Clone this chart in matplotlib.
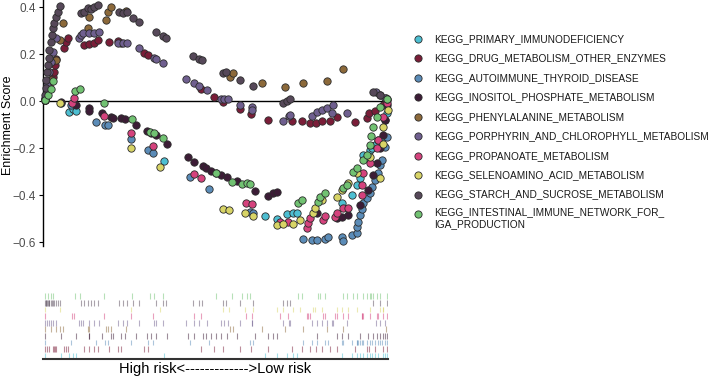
import matplotlib
matplotlib.use('Agg')
import matplotlib.pyplot as plt
from matplotlib.lines import Line2D

plt.rcParams['font.family'] = ['Liberation Sans', 'DejaVu Sans']

# gene set names (legend order) and colours
names = ['KEGG_PRIMARY_IMMUNODEFICIENCY',
         'KEGG_DRUG_METABOLISM_OTHER_ENZYMES',
         'KEGG_AUTOIMMUNE_THYROID_DISEASE',
         'KEGG_INOSITOL_PHOSPHATE_METABOLISM',
         'KEGG_PHENYLALANINE_METABOLISM',
         'KEGG_PORPHYRIN_AND_CHLOROPHYLL_METABOLISM',
         'KEGG_PROPANOATE_METABOLISM',
         'KEGG_SELENOAMINO_ACID_METABOLISM',
         'KEGG_STARCH_AND_SUCROSE_METABOLISM',
         'KEGG_INTESTINAL_IMMUNE_NETWORK_FOR_\nIGA_PRODUCTION']
colors = ['#4DBFD2', '#7A1D38', '#5B8CB8', '#3C1C36', '#8C693A',
          '#6F5F8F', '#D5427D', '#D8D466', '#564859', '#71C272']

# running enrichment score at each hit (rank, ES)
primary_rank = [1, 17, 25, 29, 32, 120, 222, 234, 244, 250, 254, 299, 309, 314, 317, 320, 324, 327, 329, 332, 335, 340, 342, 344]
primary_es = [0.004, -0.009, -0.047, -0.034, -0.043, -0.255, -0.489, -0.502, -0.481, -0.477, -0.477, -0.434, -0.40, -0.357, -0.328, -0.23, -0.238, -0.209, -0.2, -0.187, -0.166, -0.153, -0.081, -0.051]

drug_rank = [1, 3, 5, 9, 10, 11, 12, 20, 22, 24, 40, 45, 50, 54, 65, 74, 77, 100, 104, 157, 170, 180, 197, 208, 225, 249, 259, 267, 273, 279, 287, 294, 312, 324, 326, 332, 340, 344]
drug_es = [0.009, 0.038, 0.068, 0.102, 0.123, 0.153, 0.179, 0.226, 0.251, 0.268, 0.238, 0.243, 0.247, 0.26, 0.251, 0.255, 0.247, 0.204, 0.196, 0.051, 0.017, -0.004, -0.034, -0.055, -0.081, -0.085, -0.085, -0.094, -0.094, -0.085, -0.085, -0.068, -0.089, -0.072, -0.051, -0.043, -0.017, 0.004]

auto_rank = [1, 27, 52, 61, 64, 87, 104, 109, 146, 165, 207, 210, 260, 269, 274, 282, 285, 299, 300, 309, 314, 314, 315, 317, 319, 320, 324, 327, 329, 332, 335, 337, 339, 342, 344]
auto_es = [0.004, -0.017, -0.089, -0.102, -0.102, -0.162, -0.209, -0.221, -0.323, -0.374, -0.472, -0.477, -0.587, -0.591, -0.591, -0.587, -0.579, -0.579, -0.596, -0.57, -0.562, -0.536, -0.515, -0.485, -0.46, -0.434, -0.413, -0.391, -0.366, -0.336, -0.306, -0.272, -0.251, -0.196, -0.153]

inositol_rank = [1, 17, 32, 45, 45, 58, 67, 69, 77, 81, 92, 103, 107, 112, 123, 144, 150, 159, 162, 167, 172, 178, 184, 194, 212, 225, 230, 234, 274, 294, 299, 305, 317, 325, 330, 334, 337, 340, 342, 344]
inositol_es = [0.004, -0.004, -0.017, -0.03, -0.043, -0.051, -0.068, -0.072, -0.072, -0.077, -0.102, -0.128, -0.136, -0.145, -0.183, -0.238, -0.26, -0.277, -0.285, -0.298, -0.306, -0.315, -0.323, -0.34, -0.383, -0.404, -0.391, -0.387, -0.477, -0.498, -0.494, -0.485, -0.443, -0.379, -0.315, -0.264, -0.2, -0.145, -0.081, -0.017]

phenyl_rank = [1, 7, 12, 16, 19, 44, 45, 62, 64, 67, 82, 187, 190, 219, 242, 260, 284, 300, 343]
phenyl_es = [0.004, 0.089, 0.174, 0.26, 0.332, 0.311, 0.357, 0.345, 0.379, 0.40, 0.383, 0.102, 0.119, 0.077, 0.06, 0.077, 0.085, 0.136, 0.013]

porph_rank = [1, 3, 5, 7, 9, 12, 35, 37, 39, 45, 50, 55, 74, 79, 83, 95, 110, 112, 119, 142, 150, 155, 163, 178, 181, 185, 197, 209, 209, 240, 246, 247, 269, 274, 279, 284, 290, 289, 304, 333, 337, 342]
porph_es = [0.013, 0.068, 0.123, 0.166, 0.209, 0.268, 0.268, 0.281, 0.289, 0.289, 0.289, 0.294, 0.247, 0.247, 0.247, 0.226, 0.183, 0.179, 0.162, 0.094, 0.077, 0.064, 0.047, 0.009, 0.009, 0.009, -0.017, -0.026, -0.038, -0.085, -0.064, -0.06, -0.064, -0.047, -0.038, -0.03, -0.017, -0.051, -0.051, 0.038, 0.026, 0.013]

propan_rank = [1, 28, 30, 60, 87, 109, 150, 157, 203, 209, 237, 245, 264, 265, 267, 280, 282, 292, 294, 300, 305, 319, 319, 320, 327, 334, 335, 340, 344]
propan_es = [0.004, -0.009, 0.013, -0.064, -0.136, -0.191, -0.311, -0.328, -0.434, -0.438, -0.515, -0.515, -0.54, -0.519, -0.498, -0.506, -0.489, -0.494, -0.477, -0.455, -0.455, -0.40, -0.357, -0.306, -0.264, -0.2, -0.166, -0.068, -0.009]

seleno_rank = [1, 16, 87, 116, 180, 186, 202, 210, 234, 240, 250, 257, 270, 272, 279, 294, 299, 305, 314, 327, 337, 340, 340, 345]
seleno_es = [0.004, -0.009, -0.2, -0.281, -0.46, -0.464, -0.477, -0.489, -0.528, -0.523, -0.523, -0.506, -0.477, -0.455, -0.421, -0.409, -0.379, -0.349, -0.306, -0.238, -0.328, -0.183, -0.111, -0.038]

starch_rank = [1, 2, 2, 3, 4, 5, 5, 7, 8, 9, 10, 12, 14, 16, 37, 40, 44, 47, 50, 54, 75, 79, 83, 89, 95, 112, 119, 122, 149, 155, 158, 180, 183, 197, 210, 240, 244, 247, 330, 337, 344]
starch_es = [0.026, 0.055, 0.089, 0.123, 0.153, 0.183, 0.217, 0.251, 0.281, 0.311, 0.332, 0.357, 0.379, 0.404, 0.374, 0.379, 0.396, 0.391, 0.40, 0.409, 0.379, 0.374, 0.379, 0.353, 0.336, 0.294, 0.277, 0.268, 0.191, 0.179, 0.174, 0.119, 0.123, 0.089, 0.064, -0.009, 0.0, 0.009, 0.038, 0.026, 0.009]

intest_rank = [1, 4, 7, 9, 31, 36, 60, 88, 106, 110, 119, 172, 189, 199, 204, 207, 255, 259, 275, 277, 282, 300, 304, 310, 314, 320, 324, 327, 328, 330, 334, 337, 344]
intest_es = [0.004, 0.026, 0.051, 0.085, 0.043, 0.051, -0.009, -0.077, -0.132, -0.136, -0.157, -0.306, -0.345, -0.353, -0.349, -0.353, -0.434, -0.421, -0.43, -0.409, -0.391, -0.37, -0.357, -0.302, -0.285, -0.251, -0.23, -0.187, -0.149, -0.111, -0.068, -0.026, 0.009]

ranks = [primary_rank, drug_rank, auto_rank, inositol_rank, phenyl_rank,
         porph_rank, propan_rank, seleno_rank, starch_rank, intest_rank]
scores = [primary_es, drug_es, auto_es, inositol_es, phenyl_es,
          porph_es, propan_es, seleno_es, starch_es, intest_es]

W, H = 709, 377
fig = plt.figure(figsize=(W / 100, H / 100), dpi=100)

# top panel: running enrichment score
ax1 = fig.add_axes([43 / W, 1 - 246 / H, 345 / W, 246 / H])
for r, es, c in zip(ranks, scores, colors):
    ax1.scatter(r, es, s=28, color=c, edgecolor='#2b2b2b', linewidth=0.6,
                zorder=3, clip_on=False)
ax1.axhline(0, color='black', lw=1, zorder=2)
ax1.set_xlim(-1, 345)
ax1.set_ylim(-0.617, 0.43)
ax1.set_yticks([-0.6, -0.4, -0.2, 0.0, 0.2, 0.4])
ax1.set_yticklabels(['\u22120.6', '\u22120.4', '\u22120.2', '0.0', '0.2', '0.4'])
ax1.tick_params(axis='y', labelsize=8.5, labelcolor='#4d4d4d', length=3,
                width=0.8, pad=2)
ax1.set_xticks([])
for s in ['top', 'right', 'bottom']:
    ax1.spines[s].set_visible(False)
ax1.spines['left'].set_linewidth(1)
ax1.set_ylabel('Enrichment Score', fontsize=9)
ax1.yaxis.set_label_coords(-0.084, 0.49)

# bottom panel: hit positions
ax2 = fig.add_axes([43 / W, 1 - 359 / H, 345 / W, 66 / H])
for i, (r, c) in enumerate(zip(ranks, colors)):
    ax2.vlines(r, i + 0.05, i + 0.95, color=c, lw=0.8, alpha=0.5)
ax2.set_xlim(-1, 345)
ax2.set_ylim(0, 10)
ax2.set_xticks([])
ax2.set_yticks([])
for s in ['top', 'right', 'left']:
    ax2.spines[s].set_visible(False)
ax2.spines['bottom'].set_linewidth(1.5)
ax2.spines['bottom'].set_color('#333333')
ax2.set_xlabel('High risk<------------->Low risk', fontsize=10.5, labelpad=2)

# legend
for i, (n, c) in enumerate(zip(names, colors)):
    y = 1 - (39 + 19.45 * i) / H
    fig.add_artist(Line2D([418 / W], [y], marker='o', markersize=5.2,
                          markerfacecolor=c, markeredgecolor='#2b2b2b',
                          markeredgewidth=0.6, linestyle='none',
                          transform=fig.transFigure))
    if '\n' in n:
        fig.text(434 / W, y + 6.5 / H, n, fontsize=7.3, va='top',
                 ha='left', color='#1a1a1a', linespacing=1.15)
    else:
        fig.text(434 / W, y, n, fontsize=7.3, va='center', ha='left',
                 color='#1a1a1a')

fig.savefig('out.png', dpi=100)
